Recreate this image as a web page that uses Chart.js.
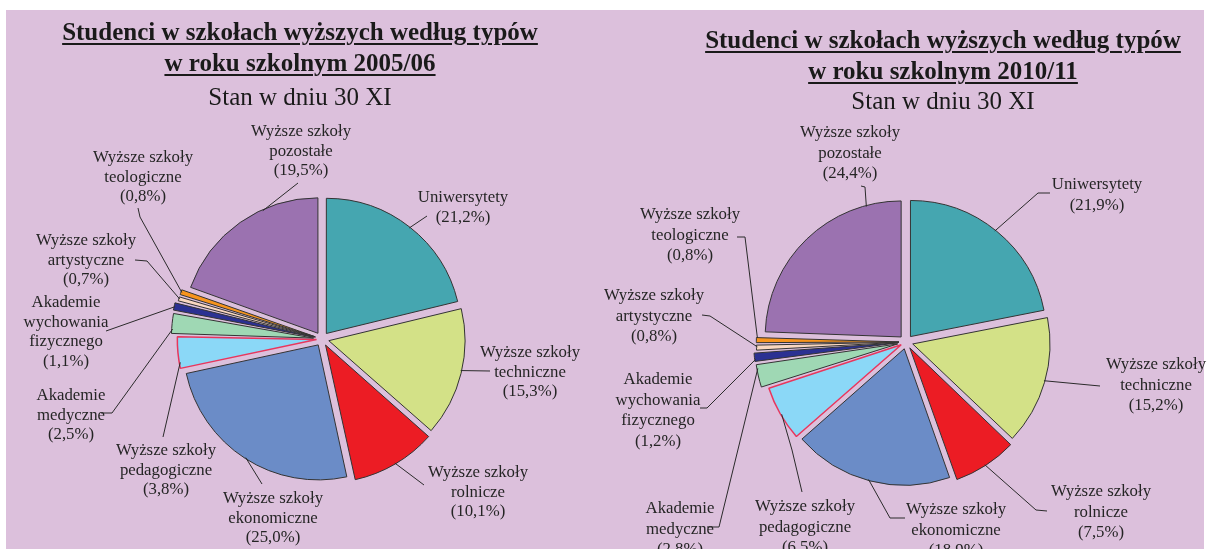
<!DOCTYPE html>
<html><head><meta charset="utf-8">
<script src="https://cdn.jsdelivr.net/npm/chart.js@4/dist/chart.umd.min.js"></script>
<style>
html,body{margin:0;padding:0;background:#fff;width:1208px;height:549px;overflow:hidden;position:relative;}
#bg{position:absolute;left:6px;top:10px;width:1198px;height:539px;background:#dcc0dc;}
.t{position:absolute;white-space:nowrap;text-align:center;font-family:"Liberation Serif","Times New Roman",serif;color:#1a1a1a;transform:translateX(-50%);line-height:30px;height:30px;font-size:25px;}
.b{font-weight:bold;text-decoration:underline;text-decoration-thickness:2px;text-underline-offset:3px;}
canvas{position:absolute;top:0;}
</style></head><body>
<div id="bg"></div>
<canvas id="c1" width="604" height="549" style="left:0"></canvas>
<canvas id="c2" width="604" height="549" style="left:604px"></canvas>
<script>
// ---- data ----
const categories = [
  ['Uniwersytety'],
  ['Wyższe szkoły', 'techniczne'],
  ['Wyższe szkoły', 'rolnicze'],
  ['Wyższe szkoły', 'ekonomiczne'],
  ['Wyższe szkoły', 'pedagogiczne'],
  ['Akademie', 'medyczne'],
  ['Akademie', 'wychowania', 'fizycznego'],
  ['Wyższe szkoły', 'artystyczne'],
  ['Wyższe szkoły', 'teologiczne'],
  ['Wyższe szkoły', 'pozostałe']
];
const values2005 = [21.2, 15.3, 10.1, 25.0, 3.8, 2.5, 1.1, 0.7, 0.8, 19.5];
const values2010 = [21.9, 15.2, 7.5, 18.9, 6.5, 2.8, 1.2, 0.8, 0.8, 24.4];
const titles2005 = ['Studenci w szkołach wyższych według typów', 'w roku szkolnym 2005/06', 'Stan w dniu 30 XI'];
const titles2010 = ['Studenci w szkołach wyższych według typów', 'w roku szkolnym 2010/11', 'Stan w dniu 30 XI'];

// ---- styles / layout ----
const sliceColors = ['#45a6b0', '#d3e187', '#ec1c24', '#6b8cc7', '#8bd8f7', '#9fd8b4', '#2b3192', '#f9d7c0', '#f7941d', '#9b72b0'];
const borderColors = ['#333', '#333', '#333', '#333', '#e8365d', '#333', '#333', '#333', '#333', '#333'];
const borderWidths = [1, 1, 1, 1, 1.5, 1, 1, 1, 1, 1];
const offsets = [28, 28, 28, 28, 22, 34, 34, 28, 28, 28];

const titleLayout = [
  {cx: 300, ys: [32, 63, 97]},
  {cx: 943, ys: [40, 71, 101]}
];

const labelLayout2005 = [
  {x: 463, y: 198, t: .5, path: [[427, 216]]},
  {x: 530, y: 353, t: .48, path: [[490, 371]]},
  {x: 478, y: 473, t: .5, path: [[424, 485]]},
  {x: 273, y: 499, t: .5, path: [[262, 484]]},
  {x: 166, y: 451, t: .2, path: [[163, 437]]},
  {x: 71, y: 396, t: .25, path: [[112, 413], [101, 413]]},
  {x: 66, y: 303, t: .5, path: [[106, 331]]},
  {x: 86, y: 241, t: .5, path: [[147, 261], [135, 260]]},
  {x: 143, y: 158, t: .5, path: [[140, 217], [138, 208]]},
  {x: 301, y: 132, t: .655, path: [[298, 183]]}
];
const labelLayout2010 = [
  {x: 1097, y: 185, t: .49, path: [[1038, 193], [1050, 193]]},
  {x: 1156, y: 365, t: .49, path: [[1100, 386]]},
  {x: 1101, y: 492, t: .51, path: [[1036, 510], [1047, 511]]},
  {x: 956, y: 510, t: .51, path: [[890, 518], [905, 518]]},
  {x: 805, y: 507, t: .48, path: [[792, 450], [802, 492]]},
  {x: 680, y: 509, t: .8, path: [[719, 527], [707, 527]]},
  {x: 658, y: 380, t: .3, path: [[707, 408], [700, 408]]},
  {x: 654, y: 296, t: .6, path: [[710, 316], [702, 315]]},
  {x: 690, y: 215, t: .8, path: [[745, 237], [737, 237]]},
  {x: 850, y: 133, t: .83, path: [[865, 187], [861, 186]]}
];

// titles as real text
titleLayout.forEach((tl, k) => {
  const lines = k === 0 ? titles2005 : titles2010;
  lines.forEach((txt, j) => {
    const d = document.createElement('div');
    d.className = 't' + (j < 2 ? ' b' : '');
    d.textContent = txt;
    d.style.left = tl.cx + 'px';
    d.style.top = (tl.ys[j] - 15) + 'px';
    document.body.appendChild(d);
  });
});

const fmt = v => '(' + v.toFixed(1).replace('.', ',') + '%)';

function labelPlugin(layout, canvasLeft, lineH) {
  return {
    id: 'pieLabels',
    afterDatasetsDraw(chart) {
      const ctx = chart.ctx;
      const meta = chart.getDatasetMeta(0);
      const vals = chart.data.datasets[0].data;
      ctx.save();
      ctx.strokeStyle = '#2a2a2a';
      ctx.lineWidth = 1;
      meta.data.forEach((arc, i) => {
        const L = layout[i];
        const p = arc.getProps(['x', 'y', 'startAngle', 'endAngle', 'outerRadius', 'circumference'], true);
        const off = (arc.options.offset || 0) / 4;
        const mid = (p.startAngle + p.endAngle) / 2;
        const fix = 1 - Math.sin(Math.min(Math.PI, p.circumference));
        const r = p.outerRadius + off * fix - 1;
        const a = p.startAngle + L.t * (p.endAngle - p.startAngle);
        const ax = p.x + Math.cos(mid) * off + Math.cos(a) * r;
        const ay = p.y + Math.sin(mid) * off + Math.sin(a) * r;
        ctx.beginPath();
        ctx.moveTo(ax, ay);
        L.path.forEach(([x, y]) => ctx.lineTo(x - canvasLeft, y));
        ctx.stroke();
      });
      ctx.fillStyle = '#252525';
      ctx.font = '16.8px "Liberation Serif", "Times New Roman", serif';
      ctx.textAlign = 'center';
      ctx.textBaseline = 'middle';
      chart.data.labels.forEach((lab, i) => {
        const L = layout[i];
        const lines = lab.concat([fmt(vals[i])]);
        lines.forEach((ln, j) => ctx.fillText(ln, L.x - canvasLeft, L.y + j * lineH));
      });
      ctx.restore();
    }
  };
}

function makePie(id, values, layout, canvasLeft, padding, radius, lineH) {
  return new Chart(document.getElementById(id), {
    type: 'pie',
    data: {
      labels: categories,
      datasets: [{
        data: values,
        backgroundColor: sliceColors,
        borderColor: borderColors,
        borderWidth: borderWidths,
        offset: offsets,
        clip: false
      }]
    },
    options: {
      responsive: false,
      animation: false,
      events: [],
      radius: radius,
      layout: {padding: padding},
      plugins: {legend: {display: false}, tooltip: {enabled: false}, title: {display: false}}
    },
    plugins: [labelPlugin(layout, canvasLeft, lineH)]
  });
}

makePie('c1', values2005, labelLayout2005, 0, {left: 200, right: 160, top: 200, bottom: 71}, 135, 19.5);
makePie('c2', values2010, labelLayout2010, 604, {left: 160, right: 160, top: 200, bottom: 65}, 136, 20.5);
</script>
</body></html>
